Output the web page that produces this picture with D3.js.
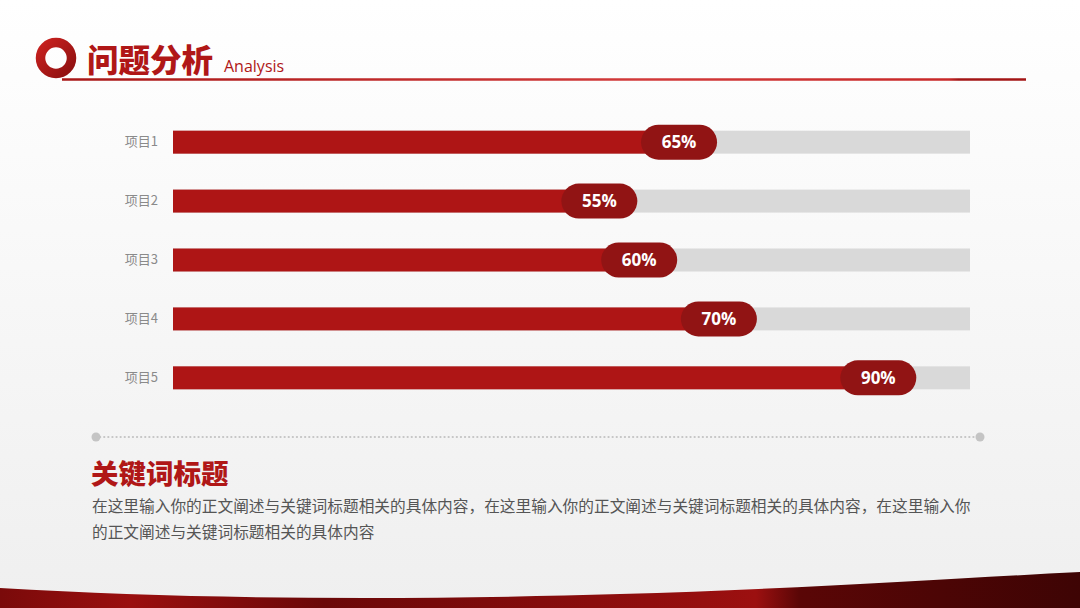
<!DOCTYPE html>
<html><head><meta charset="utf-8">
<script src="https://cdn.jsdelivr.net/npm/d3@7/dist/d3.min.js"></script>
<style>
html,body{margin:0;padding:0;background:#fff;}
svg{display:block;font-family:"Noto Sans CJK SC","Noto Sans",sans-serif;}
</style></head>
<body>
<svg id="chart" width="1080" height="608"></svg>
<script>
const categories = ["项目1","项目2","项目3","项目4","项目5"];
const values = [65,55,60,70,90];
const valueLabels = ["65%","55%","60%","70%","90%"];
const title = "问题分析";
const subtitle = "Analysis";
const keywordTitle = "关键词标题";
const bodyLines = ["在这里输入你的正文阐述与关键词标题相关的具体内容，在这里输入你的正文阐述与关键词标题相关的具体内容，在这里输入你",
                   "的正文阐述与关键词标题相关的具体内容"];

const svg = d3.select("#chart");
const W = 1080, H = 608;
const defs = svg.append("defs");

// background
const bg = defs.append("linearGradient").attr("id","bg").attr("x1",0).attr("y1",0).attr("x2",0).attr("y2",1);
bg.append("stop").attr("offset","0%").attr("stop-color","#ffffff");
bg.append("stop").attr("offset","100%").attr("stop-color","#efefef");
svg.append("rect").attr("width",W).attr("height",H).attr("fill","url(#bg)");

// bottom wave
const wg = defs.append("linearGradient").attr("id","wave").attr("x1",0).attr("y1",0).attr("x2",1).attr("y2",0);
[["0%","#7a0a0a"],["12%","#9a0f0f"],["30%","#6a0808"],["55%","#8a0d0d"],["70%","#9c1010"],["74%","#5a0606"],["100%","#3e0404"]]
  .forEach(s=>wg.append("stop").attr("offset",s[0]).attr("stop-color",s[1]));
svg.append("path")
  .attr("d",`M0,588 C200,600 420,600 620,594 C800,589 960,578 ${W},572 L${W},${H} L0,${H} Z`)
  .attr("fill","url(#wave)");

// header
const rg = defs.append("linearGradient").attr("id","ring").attr("x1",0).attr("y1",0).attr("x2",1).attr("y2",1);
rg.append("stop").attr("offset","0%").attr("stop-color","#c8211f");
rg.append("stop").attr("offset","100%").attr("stop-color","#8e1010");
const lg = defs.append("linearGradient").attr("id","uline").attr("gradientUnits","userSpaceOnUse")
  .attr("x1",62).attr("y1",0).attr("x2",1026).attr("y2",0);
lg.append("stop").attr("offset","0%").attr("stop-color","#a81616");
lg.append("stop").attr("offset","60%").attr("stop-color","#d23a3a");
lg.append("stop").attr("offset","92%").attr("stop-color","#c82828");
lg.append("stop").attr("offset","93%").attr("stop-color","#a31515");
lg.append("stop").attr("offset","100%").attr("stop-color","#a31515");
svg.append("line").attr("x1",62).attr("x2",1026).attr("y1",79.5).attr("y2",79.5)
  .attr("stroke","url(#uline)").attr("stroke-width",2.5);
svg.append("circle").attr("cx",56).attr("cy",58).attr("r",15.5)
  .attr("fill","none").attr("stroke","url(#ring)").attr("stroke-width",9.5);
svg.append("text").attr("x",87).attr("y",72).text(title)
  .attr("font-size",31.5).attr("font-weight",900).attr("fill","#b01717");
svg.append("text").attr("x",224).attr("y",72).text(subtitle)
  .attr("font-size",16).attr("fill","#b01717").attr("font-family","'Open Sans',sans-serif");

// chart
const x = d3.scaleLinear().domain([0,100]).range([173,970]);
const y = d3.scaleBand().domain(categories).range([113,407]).paddingInner(0.61).paddingOuter(0.3);
const barH = y.bandwidth();
const g = svg.append("g");
const rows = g.selectAll("g.row").data(categories.map((c,i)=>({c,v:values[i],l:valueLabels[i]})))
  .join("g").attr("class","row");
rows.append("rect").attr("x",x(0)).attr("width",x(100)-x(0))
  .attr("y",d=>y(d.c)).attr("height",barH).attr("fill","#d9d9d9");
rows.append("rect").attr("x",x(0)).attr("width",d=>x(d.v)-x(0))
  .attr("y",d=>y(d.c)).attr("height",barH).attr("fill","#ae1515");
const pillW = 76, pillH = 35, pillOff = 12;
rows.append("rect")
  .attr("x",d=>x(d.v)-pillOff-pillW/2).attr("y",d=>y(d.c)+barH/2-pillH/2)
  .attr("width",pillW).attr("height",pillH).attr("rx",pillH/2)
  .attr("fill","#911414");
rows.append("text")
  .attr("x",d=>x(d.v)-pillOff).attr("y",d=>y(d.c)+barH/2+6)
  .attr("text-anchor","middle").attr("font-size",17).attr("font-weight",700)
  .attr("font-family","'Open Sans',sans-serif").attr("fill","#fff").text(d=>d.l);

const yAxis = d3.axisLeft(y).tickSize(0).tickPadding(15);
const ag = svg.append("g").attr("transform",`translate(${x(0)},0)`).call(yAxis);
ag.select(".domain").remove();
ag.selectAll("text").attr("font-size",13).attr("fill","#8a8a8a")
  .attr("font-family","'Noto Sans CJK SC',sans-serif");

// divider
svg.append("line").attr("x1",96).attr("x2",980).attr("y1",437).attr("y2",437)
  .attr("stroke","#c4c4c4").attr("stroke-width",2.2).attr("stroke-dasharray","0.1 4").attr("stroke-linecap","round");
svg.append("circle").attr("cx",96).attr("cy",437).attr("r",4.5).attr("fill","#c4c4c4");
svg.append("circle").attr("cx",980).attr("cy",437).attr("r",4.5).attr("fill","#c4c4c4");

svg.append("text").attr("x",91).attr("y",484).text(keywordTitle)
  .attr("font-size",27.5).attr("font-weight",900).attr("fill","#b01717");
svg.selectAll("text.body").data(bodyLines).join("text").attr("class","body")
  .attr("x",92).attr("y",(d,i)=>512+i*26).text(d=>d)
  .attr("font-size",15.7).attr("fill","#555");
</script>
</body></html>
